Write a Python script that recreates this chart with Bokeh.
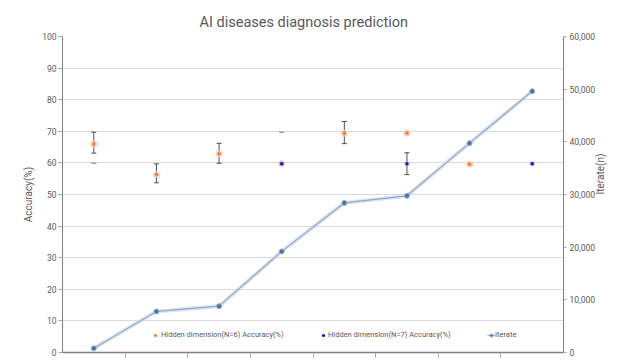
import math
from bokeh.plotting import figure
from bokeh.models import (Range1d, LinearAxis, SingleIntervalTicker, FixedTicker,
                          NumeralTickFormatter, Legend, LegendItem)
from bokeh.embed import file_html
from bokeh.resources import INLINE

nan = float("nan")

# ---- data ----
runs = [1, 2, 3, 4, 5, 6, 7, 8]
iterate = [800, 7800, 8800, 19200, 28400, 29750, 39750, 49600]
acc_n6 = [66.0, 56.3, 62.9, 59.7, 69.4, 69.5, 59.6, nan]
acc_n7 = [nan, nan, nan, 59.7, nan, 59.7, nan, 59.7]
err_x = [1, 2, 3, 5, 6]
err_low = [63.1, 53.7, 59.9, 66.1, 56.3]
err_high = [69.7, 59.7, 66.2, 73.1, 63.2]
cap_x = [1, 4]
cap_y = [59.9, 69.7]
bounds = [1.5, 2.5, 3.5, 4.5, 5.5, 6.5, 7.5]

FONT = "Roboto"
GRAY = "#595959"

p = figure(width=624, height=362, output_backend="svg", toolbar_location=None,
           x_range=Range1d(0.5, 8.5), y_range=Range1d(0, 100),
           min_border_left=62, min_border_right=61, min_border_top=36, min_border_bottom=10)
p.extra_y_ranges = {"iter": Range1d(0, 60000)}
p.outline_line_color = None
p.background_fill_color = "white"
p.border_fill_color = "white"

p.title.text = "AI diseases diagnosis prediction"
p.title.text_font = FONT
p.title.text_font_size = "14.5px"
p.title.text_font_style = "normal"
p.title.text_color = GRAY
p.title.align = "left"
p.title.offset = 137
p.title.standoff = 11

# grid
p.xgrid.visible = False
p.ygrid.ticker = SingleIntervalTicker(interval=10)
p.ygrid.grid_line_color = "#d9d9d9"

# left axis
ya = p.yaxis[0]
ya.ticker = SingleIntervalTicker(interval=10)
ya.axis_label = "Accuracy(%)"
ya.axis_label_text_font = FONT
ya.axis_label_text_font_size = "10px"
ya.axis_label_text_font_style = "normal"
ya.axis_label_text_color = GRAY
ya.axis_label_standoff = 5
ya.major_label_text_font = FONT
ya.major_label_text_font_size = "8.5px"
ya.major_label_text_color = GRAY
ya.major_label_standoff = 2
ya.axis_line_color = "#7f7f7f"
ya.major_tick_line_color = "#a6a6a6"
ya.major_tick_out = 4
ya.major_tick_in = 0
ya.minor_tick_line_color = None

# bottom axis
xa = p.xaxis[0]
xa.ticker = FixedTicker(ticks=bounds)
xa.major_label_overrides = {b: "" for b in bounds}
xa.major_label_text_font_size = "0px"
xa.major_label_standoff = 0
xa.major_tick_out = 5
xa.major_tick_in = 0
xa.minor_tick_line_color = None
xa.axis_line_color = "#7f7f7f"
xa.axis_line_width = 1.5
xa.major_tick_line_color = "#a6a6a6"

# right axis
ra = LinearAxis(y_range_name="iter", ticker=SingleIntervalTicker(interval=10000),
                formatter=NumeralTickFormatter(format="0,0"))
ra.axis_label = "Iterate(n)"
ra.axis_label_orientation = math.pi / 2
ra.axis_label_text_font = FONT
ra.axis_label_text_font_size = "10px"
ra.axis_label_text_font_style = "normal"
ra.axis_label_text_color = GRAY
ra.axis_label_standoff = 2
ra.major_label_text_font = FONT
ra.major_label_text_font_size = "8.5px"
ra.major_label_text_color = GRAY
ra.major_label_standoff = 2
ra.axis_line_color = "#7f7f7f"
ra.major_tick_line_color = "#a6a6a6"
ra.major_tick_out = 3
ra.major_tick_in = 0
ra.minor_tick_line_color = None
p.add_layout(ra, "right")

# iterate line (with soft glow)
p.line(runs, iterate, y_range_name="iter", line_color="#cfdbe8", line_width=4, line_alpha=0.7)
it_line = p.line(runs, iterate, y_range_name="iter", line_color="#8eaacb", line_width=1.2)
it_pts = p.scatter(runs, iterate, y_range_name="iter", size=5, marker="circle",
                   fill_color="#4a7196", line_color="#9db4cf", line_width=1)

# error bars
p.segment(err_x, err_low, err_x, err_high, line_color="#4d4d4d", line_width=1)
p.scatter(err_x, err_low, marker="dash", size=5, line_color="#4d4d4d", line_width=1)
p.scatter(err_x, err_high, marker="dash", size=5, line_color="#4d4d4d", line_width=1)
p.scatter(cap_x, cap_y, marker="dash", size=5, line_color="#7f7f7f", line_width=1)

# N=6 points
p.scatter(runs, acc_n6, size=7, fill_color="#f8cbad", line_color=None, fill_alpha=0.8)
n6 = p.scatter(runs, acc_n6, size=3.5, fill_color="#ed7d31", line_color=None)

# N=7 points
p.scatter(runs, acc_n7, size=5.5, fill_color="#b4b4f0", line_color=None, fill_alpha=0.6)
n7 = p.scatter(runs, acc_n7, size=3.5, fill_color="#1010e0", line_color=None)
n7_line = p.line([], [], line_color="#1a1a8c", line_width=1.2)

legend_kw = dict(orientation="horizontal", background_fill_alpha=0, border_line_color=None,
                 padding=0, margin=0, glyph_height=8, label_height=8,
                 label_text_font=FONT, label_text_font_size="7.5px", label_text_color=GRAY,
                 spacing=0)
lg1 = Legend(items=[LegendItem(label="Hidden dimension(N=6) Accuracy(%)", renderers=[n6])],
             location=(89, 13), glyph_width=8, label_standoff=2, **legend_kw)
lg2 = Legend(items=[LegendItem(label="Hidden dimension(N=7) Accuracy(%)", renderers=[n7_line, n7])],
             location=(256, 13), glyph_width=10, label_standoff=0, **legend_kw)
lg3 = Legend(items=[LegendItem(label="Iterate", renderers=[it_line, it_pts])],
             location=(425, 13), glyph_width=8, label_standoff=0, **legend_kw)
for lg in (lg1, lg2, lg3):
    p.add_layout(lg, "center")

open("out.html", "w").write(file_html(p, INLINE))
